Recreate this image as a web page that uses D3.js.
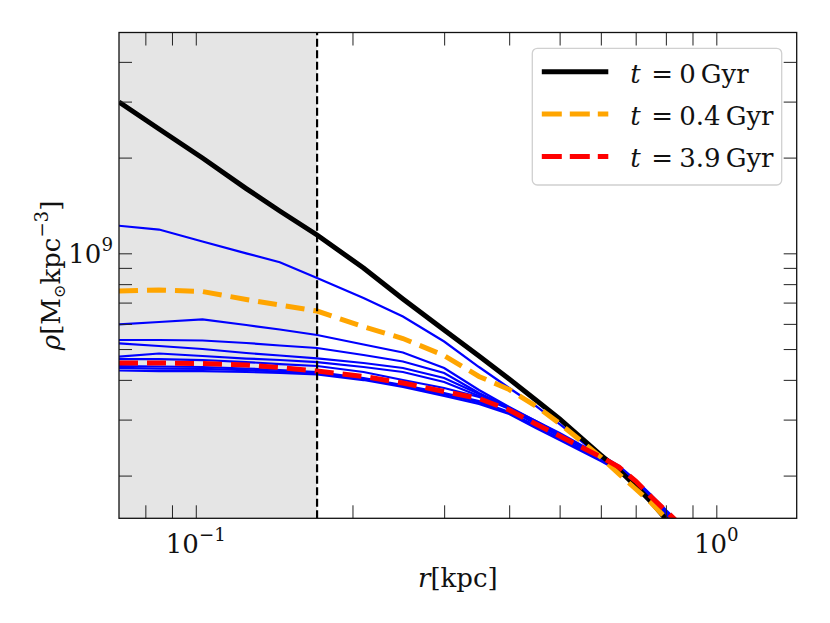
<!DOCTYPE html>
<html>
<head>
<meta charset="utf-8">
<script src="https://cdn.jsdelivr.net/npm/d3@7"></script>
<style>
  body { margin: 0; background: #fff; }
  svg text { font-family: "DejaVu Serif", "Liberation Serif", serif; }
</style>
</head>
<body>
<div id="chart"></div>
<script>
// radial bins [kpc]
const radius = [0.0712, 0.085, 0.103, 0.125, 0.145, 0.171, 0.21, 0.25, 0.3, 0.35, 0.4, 0.45, 0.5, 0.55, 0.6, 0.65, 0.7, 0.75, 0.8, 0.85];

// densities in units of 1e8 Msun / kpc^3
const rhoStart = [29.91, 24.60, 19.94, 15.98, 13.59, 11.42, 8.990, 7.183, 5.739, 4.754, 4.024, 3.457, 3.013, 2.626, 2.321, 2.082, 1.854, 1.652, 1.460, 1.310];
const rhoEarly = [7.611, 7.666, 7.583, 7.157, 6.877, 6.585, 5.878, 5.397, 4.771, 4.100, 3.730, 3.311, 2.916, 2.569, 2.288, 2.023, 1.815, 1.640, 1.471, 1.339];
const rhoFinal = [4.519, 4.519, 4.502, 4.456, 4.374, 4.264, 4.100, 3.910, 3.677, 3.494, 3.216, 2.905, 2.664, 2.460, 2.288, 2.128, 1.922, 1.713, 1.548, 1.409];

// intermediate snapshots (blue, no legend entry)
const rhoSnap1 = [12.21, 11.88, 10.89, 10.00, 9.370, 8.363, 7.235, 6.328, 5.281, 4.390, 3.771, 3.311, 2.905, 2.569, 2.288, 2.082, 1.868, 1.676, 1.514, 1.378];
const rhoSnap2 = [5.981, 6.081, 6.201, 5.951, 5.760, 5.535, 5.168, 4.876, 4.359, 3.717, 3.286, 2.970, 2.703, 2.478, 2.304, 2.128, 1.922, 1.725, 1.548, 1.398];
const rhoSnap3 = [5.339, 5.339, 5.320, 5.224, 5.130, 5.038, 4.788, 4.568, 4.205, 3.637, 3.274, 2.926, 2.684, 2.478, 2.304, 2.128, 1.922, 1.725, 1.548, 1.398];
const rhoSnap4 = [5.212, 5.111, 5.001, 4.859, 4.771, 4.675, 4.519, 4.359, 4.055, 3.611, 3.262, 2.916, 2.674, 2.469, 2.304, 2.128, 1.922, 1.725, 1.548, 1.398];
const rhoSnap5 = [4.730, 4.841, 4.754, 4.668, 4.618, 4.551, 4.390, 4.235, 3.938, 3.558, 3.238, 2.905, 2.664, 2.460, 2.304, 2.128, 1.922, 1.725, 1.548, 1.398];
const rhoSnap6 = [4.651, 4.651, 4.618, 4.551, 4.486, 4.422, 4.235, 3.995, 3.771, 3.533, 3.262, 2.970, 2.723, 2.496, 2.321, 2.144, 1.937, 1.738, 1.559, 1.419];
const rhoSnap7 = [4.422, 4.406, 4.390, 4.342, 4.297, 4.235, 4.055, 3.853, 3.637, 3.431, 3.169, 2.863, 2.626, 2.425, 2.255, 2.098, 1.895, 1.700, 1.537, 1.388];
const rhoSnap8 = [4.281, 4.264, 4.264, 4.235, 4.205, 4.159, 3.995, 3.799, 3.558, 3.358, 3.124, 2.822, 2.588, 2.390, 2.223, 2.067, 1.868, 1.676, 1.514, 1.368];
const rhoSnap9 = [4.360, 4.340, 4.330, 4.290, 4.250, 4.200, 4.030, 3.830, 3.600, 3.400, 3.140, 2.840, 2.605, 2.405, 2.240, 2.080, 1.880, 1.690, 1.525, 1.378];
const snapshots = [rhoSnap1, rhoSnap2, rhoSnap3, rhoSnap4, rhoSnap5, rhoSnap6, rhoSnap7, rhoSnap9, rhoSnap8];

const legendTimes = ["0", "0.4", "3.9"];
const rResolved = 0.171;   // convergence radius, kpc

const xMajor = [0.1, 1];
const xMinor = [0.08, 0.09, 0.2, 0.3, 0.4, 0.5, 0.6, 0.7, 0.8, 0.9];
const yMajor = [1e9];
const yMinor = [2e8, 3e8, 4e8, 5e8, 6e8, 7e8, 8e8, 9e8, 2e9, 3e9, 4e9];

const W = 830, H = 623;
const margin = {top: 32.5, right: 33.3, bottom: 104.7, left: 119};
const width = W - margin.left - margin.right;
const height = H - margin.top - margin.bottom;

const svg = d3.select("#chart").append("svg")
    .attr("width", W)
    .attr("height", H);

const g = svg.append("g")
    .attr("transform", `translate(${margin.left},${margin.top})`);

const x = d3.scaleLog().domain([0.0712, 1.427]).range([0, width]);
const y = d3.scaleLog().domain([1.468e8, 4.948e9]).range([height, 0]);

g.append("clipPath").attr("id", "plot-clip")
    .append("rect").attr("width", width).attr("height", height);

const plot = g.append("g").attr("clip-path", "url(#plot-clip)");

// unresolved region
plot.append("rect")
    .attr("x", 0).attr("y", 0)
    .attr("width", x(rResolved))
    .attr("height", height)
    .attr("fill", "#e5e5e5");

const line = d3.line()
    .x((d, i) => x(radius[i]))
    .y(d => y(d * 1e8));

// blue snapshots
plot.selectAll(".snap")
    .data(snapshots)
    .enter()
    .append("path")
    .attr("class", "snap")
    .attr("d", line)
    .attr("fill", "none")
    .attr("stroke", "#0000ff")
    .attr("stroke-width", 2.2);

plot.append("path").attr("d", line(rhoStart))
    .attr("fill", "none").attr("stroke", "#000").attr("stroke-width", 5);

plot.append("path").attr("d", line(rhoEarly))
    .attr("fill", "none").attr("stroke", "#ffa500").attr("stroke-width", 5)
    .attr("stroke-dasharray", "19,9");

plot.append("path").attr("d", line(rhoFinal))
    .attr("fill", "none").attr("stroke", "#ff0000").attr("stroke-width", 5)
    .attr("stroke-dasharray", "19,9");

// vertical dashed line
plot.append("line")
    .attr("x1", x(rResolved)).attr("x2", x(rResolved))
    .attr("y1", height).attr("y2", 0)
    .attr("stroke", "#000").attr("stroke-width", 2.2)
    .attr("stroke-dasharray", "8,3.5");

// ticks on all four sides, pointing inwards
const tickLen = 13;
function drawAxis(axis, transform) {
    const a = g.append("g").attr("transform", transform).call(axis);
    a.select(".domain").remove();
    a.selectAll("text").remove();
    a.selectAll("line").attr("stroke", "#222").attr("stroke-width", 1);
}
const xTicks = xMajor.concat(xMinor);
const yTicks = yMajor.concat(yMinor);
drawAxis(d3.axisBottom(x).tickValues(xTicks).tickSize(-tickLen), `translate(0,${height})`);
drawAxis(d3.axisTop(x).tickValues(xTicks).tickSize(-tickLen), "translate(0,0)");
drawAxis(d3.axisLeft(y).tickValues(yTicks).tickSize(-tickLen), "translate(0,0)");
drawAxis(d3.axisRight(y).tickValues(yTicks).tickSize(-tickLen), `translate(${width},0)`);

// frame
g.append("rect")
    .attr("width", width).attr("height", height)
    .attr("fill", "none").attr("stroke", "#111").attr("stroke-width", 1.3);

// power-of-ten tick labels
const fs = 26;
function powLabel(px, py, exp, anchor) {
    const t = g.append("text")
        .attr("x", px).attr("y", py)
        .attr("font-size", fs)
        .attr("fill", "#111")
        .attr("text-anchor", anchor);
    t.append("tspan").text("10");
    t.append("tspan").attr("font-size", fs * 0.7).attr("dy", -12).text(exp);
    return t;
}
xMajor.forEach(v => {
    const e = Math.round(Math.log10(v));
    powLabel(x(v), height + 35, e < 0 ? "\u2212" + (-e) : String(e), "middle");
});
yMajor.forEach(v => {
    powLabel(-6, y(v) + 10, String(Math.round(Math.log10(v))), "end");
});

// axis labels
const xl = g.append("text")
    .attr("x", width / 2).attr("y", height + 69)
    .attr("text-anchor", "middle").attr("font-size", fs).attr("fill", "#111");
xl.append("tspan").attr("font-style", "italic").text("r");
xl.append("tspan").text("[kpc]");

const yl = g.append("text")
    .attr("transform", `translate(${60 - margin.left},${height / 2}) rotate(-90)`)
    .attr("text-anchor", "middle").attr("font-size", fs).attr("fill", "#111");
yl.append("tspan").attr("font-style", "italic").text("\u03c1");
yl.append("tspan").text("[M");
yl.append("tspan").attr("font-size", fs * 0.62).attr("dy", 5).text("\u2299");
yl.append("tspan").attr("dy", -5).text("kpc");
yl.append("tspan").attr("font-size", fs * 0.7).attr("dy", -12).text("\u22123");
yl.append("tspan").attr("dy", 12).text("]");

// legend
const lg = svg.append("g").attr("transform", "translate(532.3,48.3)");
lg.append("rect")
    .attr("width", 249.4).attr("height", 136.7)
    .attr("rx", 5)
    .attr("fill", "#fff").attr("fill-opacity", 0.8)
    .attr("stroke", "#d0d0d0").attr("stroke-width", 1.3);

const legendStyles = [
    {color: "#000", dash: null},
    {color: "#ffa500", dash: "20,8"},
    {color: "#ff0000", dash: "20,8"}
];
legendTimes.forEach((tv, i) => {
    const ly = 23.5 + i * 42.3;
    lg.append("line")
        .attr("x1", 9.5).attr("x2", 76)
        .attr("y1", ly).attr("y2", ly)
        .attr("stroke", legendStyles[i].color)
        .attr("stroke-width", 5)
        .attr("stroke-dasharray", legendStyles[i].dash);
    const txt = lg.append("text")
        .attr("x", 98).attr("y", ly + 11)
        .attr("font-size", fs).attr("fill", "#111");
    txt.append("tspan").attr("font-style", "italic").text("t");
    txt.append("tspan").attr("x", 119).text("=");
    txt.append("tspan").attr("x", 147).text(tv);
    txt.append("tspan").attr("dx", 5).text("Gyr");
});
</script>
</body>
</html>
